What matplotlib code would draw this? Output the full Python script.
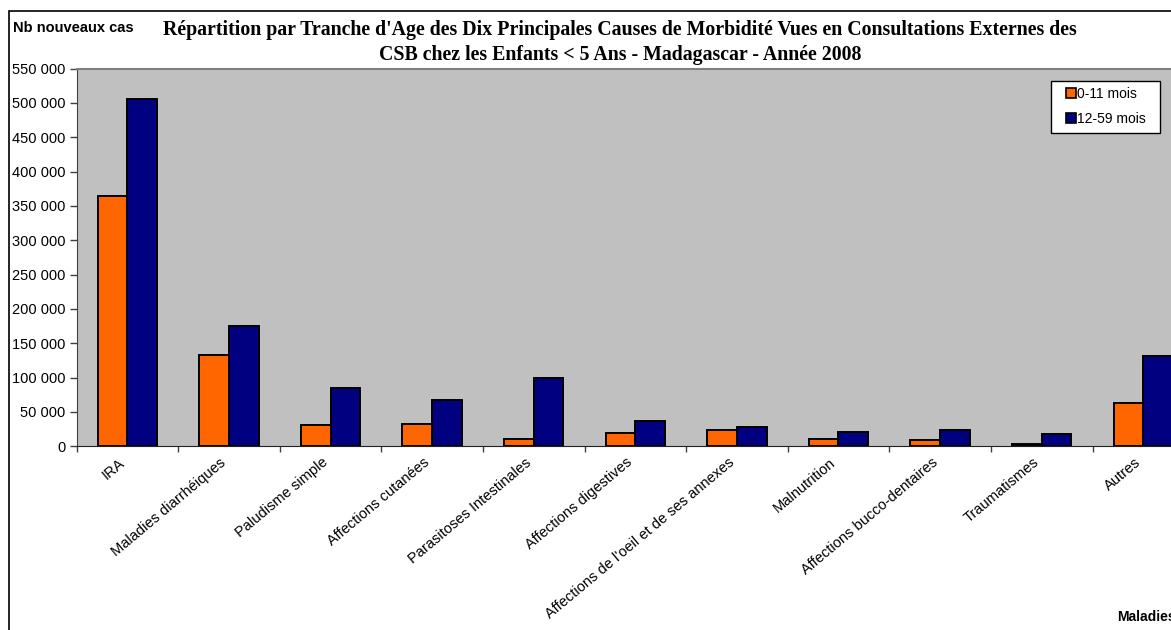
import numpy as np
import matplotlib.pyplot as plt
from matplotlib.lines import Line2D
from matplotlib.patches import Rectangle
from matplotlib.ticker import FuncFormatter

# ============================
# Données
# ============================
categories = [
    "IRA",
    "Maladies diarrhéiques",
    "Paludisme simple",
    "Affections cutanées",
    "Parasitoses Intestinales",
    "Affections digestives",
    "Affections de l'oeil et de ses annexes",
    "Malnutrition",
    "Affections bucco-dentaires",
    "Traumatismes",
    "Autres",
]
cas_0_11 = [364000, 133000, 31000, 32000, 11000, 20000, 23500, 11000, 9500, 3500, 63000]
cas_12_59 = [505000, 175000, 85500, 67500, 99500, 37500, 28500, 20500, 24000, 18500, 131000]
series_labels = ["0-11 mois", "12-59 mois"]

ORANGE = "#FF6600"
NAVY = "#000080"
GRIS = "#C0C0C0"

W, H = 1171, 630
fig = plt.figure(figsize=(W / 100, H / 100), dpi=100)

# zone de tracé (en pixels -> fractions de figure)
x0, x1 = 76.5, 76.5 + 11 * 101.6
y0, y1 = 446.3, 68.5
ax = fig.add_axes([x0 / W, 1 - y0 / H, (x1 - x0) / W, (y0 - y1) / H])
ax.set_facecolor(GRIS)

x = np.arange(len(categories))
bw = 0.292
ax.bar(x - bw / 2, cas_0_11, bw, color=ORANGE, edgecolor="black", linewidth=1.4, zorder=3)
ax.bar(x + bw / 2, cas_12_59, bw, color=NAVY, edgecolor="black", linewidth=1.4, zorder=3)

ax.set_xlim(-0.5, len(categories) - 0.5)
ax.set_ylim(0, 550000)
ax.set_yticks(np.arange(0, 550001, 50000))
ax.yaxis.set_major_formatter(FuncFormatter(lambda v, p: f"{int(v):,}".replace(",", " ")))
ax.tick_params(axis="y", direction="out", length=5, width=1, color="#404040",
               labelsize=10.5, pad=3)
for t in ax.get_yticklabels():
    t.set_fontfamily("Liberation Sans")

# ticks de séparation des catégories
ax.set_xticks(np.arange(-0.5, len(categories), 1.0))
ax.set_xticklabels([])
ax.tick_params(axis="x", direction="out", length=4, width=1, color="#404040")

for i, lab in enumerate(categories):
    ax.annotate(lab, xy=(i, 0), xycoords="data", xytext=(-6.5, -6.5),
                textcoords="offset points", rotation=40, rotation_mode="anchor",
                ha="right", va="top", fontsize=10.5, family="Liberation Sans")

for side in ["top", "right"]:
    ax.spines[side].set_color("#808080")
    ax.spines[side].set_linewidth(1.5)
ax.spines["left"].set_color("#404040")
ax.spines["bottom"].set_color("#202020")

# légende
handles = [Line2D([], [], marker="s", markersize=6.5, markerfacecolor=c,
                  markeredgecolor="black", markeredgewidth=1.2, linestyle="none")
           for c in (ORANGE, NAVY)]
px = 1.0 / (x1 - x0)
py = 1.0 / (y0 - y1)
leg = ax.legend(handles, series_labels, loc="upper left", mode="expand",
                bbox_to_anchor=((1051 - x0) * px, (y0 - 81) * py - 0.01, 109 * px, 0.01),
                fancybox=False, edgecolor="black", framealpha=1,
                handlelength=2.0, handletextpad=-0.6,
                borderpad=0.45, labelspacing=0.8, borderaxespad=0,
                prop={"family": "Liberation Sans", "size": 10})
leg.get_frame().set_linewidth(1.0)

# titres
fig.text(620 / W, 1 - 30 / H,
         "Répartition par Tranche d'Age des Dix Principales Causes de Morbidité Vues en Consultations Externes des",
         ha="center", va="center", fontsize=14.3, fontweight="bold", family="Liberation Serif")
fig.text(620 / W, 1 - 55 / H,
         "CSB chez les Enfants < 5 Ans - Madagascar - Année 2008",
         ha="center", va="center", fontsize=14.3, fontweight="bold", family="Liberation Serif")
fig.text(13 / W, 1 - 28 / H, "Nb nouveaux cas", ha="left", va="center",
         fontsize=10.5, fontweight="bold", family="Liberation Sans")
fig.text(1117 / W, 1 - 617 / H, "Maladies", ha="left", va="center",
         fontsize=10, fontweight="bold", family="Liberation Sans")

# cadre du graphique
fig.patches.append(Rectangle((9 / W, -0.1), 1.2, 1.1 - 11 / H,
                             transform=fig.transFigure, fill=False,
                             edgecolor="black", linewidth=1.2))

fig.savefig("out.png", dpi=100)
